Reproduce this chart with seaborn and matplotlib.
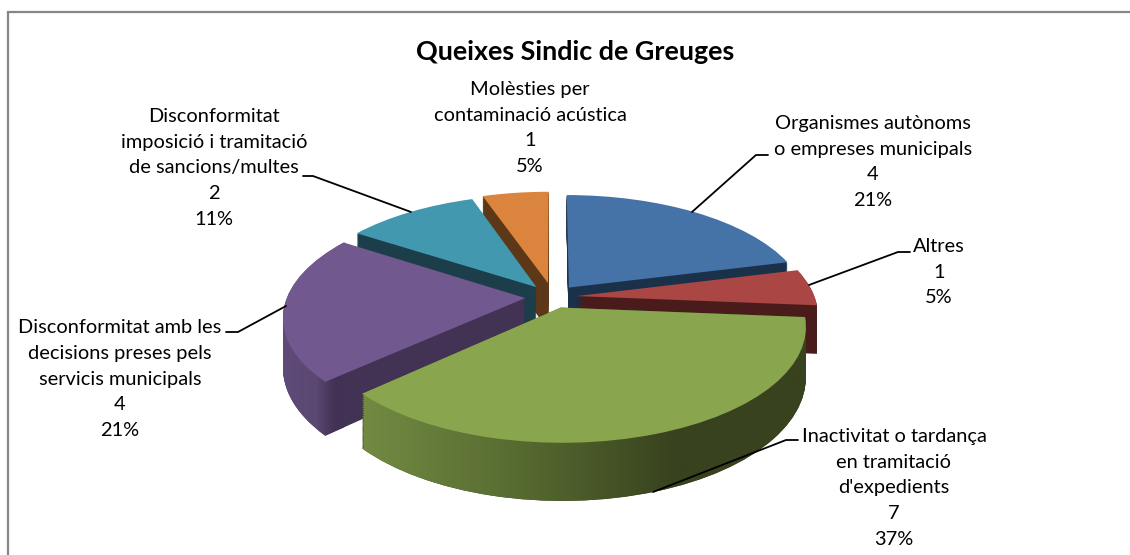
import numpy as np
import seaborn as sns
import matplotlib.pyplot as plt
from matplotlib.path import Path
from matplotlib.transforms import Transform
from matplotlib.colors import LinearSegmentedColormap

# values, in pie order (clockwise from 12 o'clock)
names = ['Organismes autònoms\no empreses municipals', 'Altres',
         "Inactivitat o tardança\nen tramitació\nd'expedients",
         'Disconformitat amb les\ndecisions preses pels\nservicis municipals',
         'Disconformitat\nimposició i tramitació\nde sancions/multes',
         'Molèsties per\ncontaminació acústica']
counts = [4, 1, 7, 4, 2, 1]
top_colors = ['#4572A7', '#AA4643', '#89A54E', '#71588F', '#4198AF', '#DB843D']
wall_colors = ['#1B3049', '#491C1B', '#38421E', '#423254', '#1B3E4A', '#5C3818']
explode = [0.11, 0.10, 0.10, 0.117, 0.115, 0.13]
title = 'Queixes Sindic de Greuges'

# layout in pixels
label_pos = [(873, 162), (939, 272), (894, 488), (120, 379), (214, 168), (530, 128)]
leaders = [[(692, 212), (756, 155), (768, 155)],
           [(809, 285), (898, 252), (910, 252)],
           [(653, 492), (786, 440), (798, 440)],
           [(286, 306), (238, 332), (226, 332)],
           [(411, 212), (313, 176), (303, 176)]]
draw_order = [5, 0, 4, 1, 3, 2]


class Tilt(Transform):
    """Perspective view of the flat pie, z pushes it down by the pie's height."""
    input_dims = 2
    output_dims = 2

    def __init__(self, z=0.0, cx=553, cy=297, rx=238, ry=110, p=0.159, height=48):
        super().__init__()
        self.z, self.cx, self.cy = z, cx, cy
        self.rx, self.ry, self.p, self.height = rx, ry, p, height

    def transform_non_affine(self, xy):
        xy = np.asarray(xy, dtype=float)
        w = 1 / (1 + self.p * xy[:, 1])
        return np.column_stack([self.cx + self.rx * xy[:, 0] * w,
                                self.cy + (self.z * self.height - self.ry * xy[:, 1]) * w])


def draw_pie(ax, colors, z, base_z):
    wedges, _ = ax.pie(counts, explode=explode, colors=colors, startangle=90,
                       counterclock=False, labeldistance=None, wedgeprops={'linewidth': 0})
    tilt = Tilt(z)
    for wedge, rank in zip(wedges, np.argsort(draw_order)):
        wedge.set_transform(tilt + ax.transData)
        wedge.set_zorder(rank * 2 + base_z)
        wedge.set_clip_on(False)
    return wedges, tilt


def wall_gradient(ax, index, stops, x0, x1):
    # shaded wall: a horizontal ramp clipped to the stacked outline of the slice
    paths = []
    for z in np.linspace(0, 1, 25):
        wedges, tilt = draw_pie(ax, top_colors, z, -50)
        paths.append(tilt.transform_path(wedges[index].get_path()))
        for wedge in wedges:
            wedge.remove()
    cmap = LinearSegmentedColormap.from_list('wall', stops)
    im = ax.imshow(np.linspace(0, 1, 256)[None, :], cmap=cmap, aspect='auto',
                   extent=(x0, x1, 540, 150),
                   zorder=np.argsort(draw_order)[index] * 2 + 0.6)
    im.set_clip_path(Path.make_compound_path(*paths), ax.transData)


def main():
    sns.set_theme(style='white')
    plt.rcParams['font.family'] = ['Lato', 'DejaVu Sans']

    fig = plt.figure(figsize=(11.3, 5.55), dpi=100, facecolor='white')
    ax = fig.add_axes([0, 0, 1, 1])

    for z in np.linspace(1, 0.02, 49):
        draw_pie(ax, wall_colors, z, 0)
    draw_pie(ax, top_colors, 0, 1)

    wall_gradient(ax, 2, [(0, '#738A42'), (0.35, '#566A30'), (0.68, '#38421E'), (1, '#38421E')],
                  360, 825)
    wall_gradient(ax, 3, [(0, '#604C79'), (0.6, '#5A4772'), (0.85, '#423254'), (1, '#423254')],
                  275, 345)

    ax.set_aspect('auto')
    ax.set_xlim(0, 1130)
    ax.set_ylim(555, 0)
    ax.axis('off')

    # chart frame, open at the bottom and on the right
    ax.plot([7.5, 7.5, 1130], [555, 11.5, 11.5], color='#868686', lw=1.6, zorder=30,
            solid_joinstyle='miter')

    ax.text(575, 52, title, ha='center', va='center', fontsize=19.4, fontweight='bold',
            color='black', zorder=40)

    total = sum(counts)
    for name, count, (x, y) in zip(names, counts, label_pos):
        pct = round(count / total * 100)
        ax.text(x, y, f'{name}\n{count}\n{pct}%', ha='center', va='center', fontsize=14.4,
                color='black', linespacing=1.63, zorder=40)

    for points in leaders:
        xs, ys = zip(*points)
        ax.plot(xs, ys, color='black', lw=1.3, zorder=35)

    plt.savefig('out.png', dpi=100)


if __name__ == '__main__':
    main()
